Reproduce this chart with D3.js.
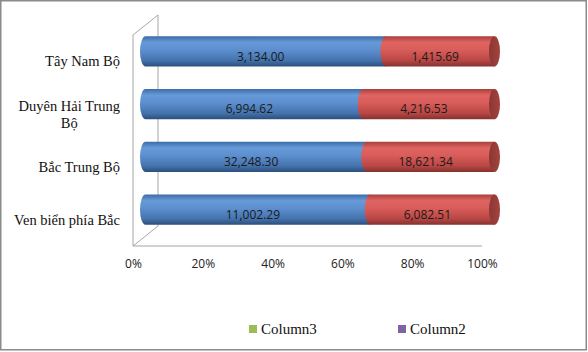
<!DOCTYPE html>
<html><head><meta charset="utf-8">
<script src="https://cdn.jsdelivr.net/npm/d3@7"></script>
<style>body{margin:0;background:#fff;}svg{display:block;}</style>
</head><body>
<script>
const categories = ["Tây Nam Bộ", "Duyên Hải Trung Bộ", "Bắc Trung Bộ", "Ven biển phía Bắc"];
const categoryLines = [["Tây Nam Bộ"], ["Duyên Hải Trung", "Bộ"], ["Bắc Trung Bộ"], ["Ven biển phía Bắc"]];
const seriesBlue = [3134.00, 6994.62, 32248.30, 11002.29];
const seriesRed = [1415.69, 4216.53, 18621.34, 6082.51];
const tickValues = [0, 0.2, 0.4, 0.6, 0.8, 1.0];
const legendNames = ["Column3", "Column2"];
const legendColors = ["#9bbb59", "#8064a2"];

const W = 588, H = 352;
const svg = d3.select("body").append("svg").attr("width", W).attr("height", H);
const defs = svg.append("defs");
function grad(id, stops) {
  const g = defs.append("linearGradient").attr("id", id).attr("x1", 0).attr("y1", 0).attr("x2", 0).attr("y2", 1);
  stops.forEach(s => g.append("stop").attr("offset", s[0]).attr("stop-color", s[1]));
}
grad("gBlue", [[0, "#3d6ca8"], [0.2, "#679ad8"], [0.45, "#5d8fd0"], [0.8, "#4473ad"], [1, "#2c4f7c"]]);
grad("gRed", [[0, "#a8403d"], [0.2, "#e06461"], [0.45, "#d95d5a"], [0.8, "#b94744"], [1, "#843230"]]);
const capG = defs.append("linearGradient").attr("id", "gCap").attr("x1", 0).attr("y1", 0).attr("x2", 1).attr("y2", 0);
capG.append("stop").attr("offset", 0).attr("stop-color", "#8a3734");
capG.append("stop").attr("offset", 1).attr("stop-color", "#a5423f");

// outer border
svg.append("rect").attr("x", 0.75).attr("y", 0.75).attr("width", W - 2.5).attr("height", H - 3)
  .attr("fill", "none").attr("stroke", "#8a8a8a").attr("stroke-width", 1.5);

const x0 = 133, x1 = 482, yTop = 35, yBot = 246;
const depthX = 25, depthY = -20;
const x = d3.scaleLinear().domain([0, 1]).range([x0, x1]);
const y = d3.scaleBand().domain(categories).range([yTop, yBot]).paddingInner(0.43).paddingOuter(0.215);

// walls
const wallC = "#a6a6a6";
const wall = svg.append("g").attr("stroke", wallC).attr("stroke-width", 1).attr("fill", "none");
wall.append("path").attr("d", `M${x0},${yBot}V${yTop}L${x0 + depthX},${yTop + depthY}V${yBot + depthY}L${x0},${yBot}H${x1}`);

// axis
const axis = d3.axisBottom(x).tickValues(tickValues).tickFormat(d3.format(".0%")).tickSize(0).tickPadding(13);
const ag = svg.append("g").attr("transform", `translate(0,${yBot})`).call(axis);
ag.select(".domain").remove();
ag.selectAll("text").attr("font-family", "Open Sans").attr("font-size", 12).attr("fill", "#222");

// bars
const rx = 5.5;
const bars = svg.append("g").attr("transform", `translate(${depthX / 2},${depthY / 2})`);
categories.forEach((c, i) => {
  const tot = seriesBlue[i] + seriesRed[i];
  const segs = [[0, seriesBlue[i] / tot, "url(#gBlue)", seriesBlue[i]], [seriesBlue[i] / tot, 1, "url(#gRed)", seriesRed[i]]];
  const top = y(c), h = y.bandwidth(), ry = h / 2, cy = top + ry;
  segs.forEach(s => {
    const a = x(s[0]), b = x(s[1]);
    bars.append("path")
      .attr("d", `M${b},${top}H${a}A${rx},${ry} 0 0 0 ${a},${top + h}H${b}Z`)
      .attr("fill", s[2]);
  });
  bars.append("ellipse").attr("cx", x(1)).attr("cy", cy).attr("rx", rx).attr("ry", ry).attr("fill", "url(#gCap)");
  segs.forEach(s => {
    bars.append("text").attr("x", (x(s[0]) + x(s[1])) / 2 - 5).attr("y", cy + 5).attr("dy", "0.35em")
      .attr("text-anchor", "middle").attr("font-family", "Open Sans").attr("font-size", 12).attr("fill", "#1a1a1a")
      .text(d3.format(",.2f")(s[3]));
  });
});

// category labels
const labelRight = 120;
categories.forEach((c, i) => {
  const lines = categoryLines[i];
  const cy = y(c) + y.bandwidth() / 2;
  const lh = 17;
  const g = svg.append("g");
  const texts = lines.map((l, j) => g.append("text").attr("font-family", "Liberation Serif").attr("font-size", 14.5)
    .attr("fill", "#111").attr("y", cy + (j - (lines.length - 1) / 2) * lh).attr("dy", "0.35em").text(l));
  const maxW = d3.max(texts, t => t.node().getComputedTextLength());
  texts.forEach(t => t.attr("text-anchor", "middle").attr("x", labelRight - maxW / 2));
});

// legend
const lg = svg.append("g");
const legX = [249, 398];
legendNames.forEach((n, i) => {
  lg.append("rect").attr("x", legX[i]).attr("y", 325).attr("width", 8).attr("height", 8).attr("fill", legendColors[i]);
  lg.append("text").attr("x", legX[i] + 12).attr("y", 329).attr("dy", "0.35em").attr("font-family", "Liberation Serif")
    .attr("font-size", 15).attr("fill", "#111").text(n);
});
</script>
</body></html>
